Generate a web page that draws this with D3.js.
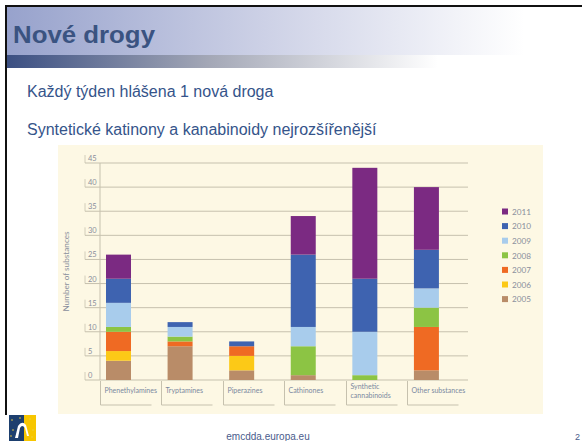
<!DOCTYPE html>
<html><head><meta charset="utf-8">
<script src="https://cdn.jsdelivr.net/npm/d3@7/dist/d3.min.js"></script>
<style>html,body{margin:0;padding:0;background:#fff;}svg{display:block;}</style>
</head><body>
<script>
const categories = ["Phenethylamines","Tryptamines","Piperazines","Cathinones","Synthetic cannabinoids","Other substances"];
const categoryLines = [["Phenethylamines"],["Tryptamines"],["Piperazines"],["Cathinones"],["Synthetic","cannabinoids"],["Other substances"]];
const years = ["2005","2006","2007","2008","2009","2010","2011"];
const s2005 = [4,7,2,1,0,2];
const s2006 = [2,0,3,0,0,0];
const s2007 = [4,1,2,0,0,9];
const s2008 = [1,1,0,6,1,4];
const s2009 = [5,2,0,4,9,4];
const s2010 = [5,1,1,15,11,8];
const s2011 = [5,0,0,8,23,13];
const yTicks = [0,5,10,15,20,25,30,35,40,45];
const colors = ["#b98c68","#fcc917","#ef6a23","#8cc444","#a8ccec","#3e63b0","#7b2a82"];

const W=582,H=441;
const svg=d3.select("body").append("svg").attr("width",W).attr("height",H);
const defs=svg.append("defs");
const g1=defs.append("linearGradient").attr("id","band").attr("x1","0").attr("x2","1");
g1.append("stop").attr("offset","0").attr("stop-color","#97a2cc");
g1.append("stop").attr("offset","0.45").attr("stop-color","#cdd1e6");
g1.append("stop").attr("offset","0.9").attr("stop-color","#ffffff");
const g2=defs.append("linearGradient").attr("id","strip").attr("x1","0").attr("x2","1");
g2.append("stop").attr("offset","0").attr("stop-color","#3b4f82");
g2.append("stop").attr("offset","0.35").attr("stop-color","#a3a7b6");
g2.append("stop").attr("offset","0.75").attr("stop-color","#ffffff");

// header
svg.append("rect").attr("x",6).attr("y",6).attr("width",W-6).attr("height",49).attr("fill","url(#band)");
svg.append("rect").attr("x",6).attr("y",55).attr("width",W-6).attr("height",13).attr("fill","url(#strip)");
svg.append("line").attr("x1",5).attr("x2",W).attr("y1",6).attr("y2",6).attr("stroke","#111").attr("stroke-width",2);
svg.append("line").attr("x1",6).attr("x2",6).attr("y1",5).attr("y2",415).attr("stroke","#111").attr("stroke-width",2);
svg.append("text").attr("x",13).attr("y",43).text("Nové drogy")
  .attr("textLength",142).attr("lengthAdjust","spacingAndGlyphs")
  .attr("font-family","Liberation Sans, Arial, sans-serif").attr("font-weight","bold").attr("font-size",23).attr("fill","#3a5381");
svg.append("text").attr("x",27).attr("y",97).text("Každý týden hlášena 1 nová droga")
  .attr("font-family","Liberation Sans, Arial, sans-serif").attr("font-size",16).attr("fill","#35548a");
svg.append("text").attr("x",27).attr("y",135).text("Syntetické katinony a kanabinoidy nejrozšířenější")
  .attr("font-family","Liberation Sans, Arial, sans-serif").attr("font-size",16).attr("fill","#35548a");

// chart panel
svg.append("rect").attr("x",58).attr("y",145).attr("width",485).attr("height",269).attr("fill","#fdf8e4");

const x=d3.scaleBand().domain(categories).range([99.5,469]).padding(0);
const y=d3.scaleLinear().domain([0,45]).range([380,163]);
const tickCol="#c6c1ae", txtCol="#8a8f9c";
const font="Lato, Liberation Sans, sans-serif";

const grid=svg.append("g");
yTicks.forEach(t=>{
  grid.append("line").attr("x1",85).attr("x2",468).attr("y1",y(t)).attr("y2",y(t)).attr("stroke",tickCol).attr("stroke-width",1);
  grid.append("line").attr("x1",85).attr("x2",85).attr("y1",y(t)-8).attr("y2",y(t)).attr("stroke",tickCol).attr("stroke-width",0.8);
  grid.append("text").attr("x",88).attr("y",y(t)-2).text(t).attr("font-family",font).attr("font-size",7.5).attr("fill",txtCol);
});
svg.append("line").attr("x1",100).attr("x2",100).attr("y1",y(45)).attr("y2",y(0)).attr("stroke",tickCol).attr("stroke-width",1);

svg.append("text").attr("transform",`translate(69,${(y(0)+y(45))/2}) rotate(-90)`).attr("text-anchor","middle")
  .text("Number of substances").attr("font-family",font).attr("font-size",8.2).attr("fill",txtCol);

// stacked bars
const table=categories.map((c,i)=>{const o={cat:c};[s2005,s2006,s2007,s2008,s2009,s2010,s2011].forEach((s,k)=>o[years[k]]=s[i]);return o;});
const stack=d3.stack().keys(years)(table);
svg.append("g").selectAll("g").data(stack).join("g").attr("fill",(d,i)=>colors[i])
  .selectAll("rect").data(d=>d).join("rect")
  .attr("x",d=>x(d.data.cat)+6.5).attr("width",25)
  .attr("y",d=>y(d[1])).attr("height",d=>y(d[0])-y(d[1]));

// category label boxes
const cg=svg.append("g");
categories.forEach((c,i)=>{
  const x0=Math.round(x(c))+0.5;
  cg.append("line").attr("x1",x0).attr("x2",x0).attr("y1",381).attr("y2",405).attr("stroke",tickCol);
  cg.append("line").attr("x1",x0).attr("x2",x0+51).attr("y1",405).attr("y2",405).attr("stroke",tickCol);
  const lines=categoryLines[i];
  lines.forEach((l,j)=>{
    cg.append("text").attr("x",x0+4).attr("y",lines.length>1?389+j*8.5:393).text(l)
      .attr("font-family",font).attr("font-size",7).attr("fill","#7b88a0");
  });
});

// legend
const leg=svg.append("g");
years.slice().reverse().forEach((yr,i)=>{
  const yy=212+i*14.6;
  leg.append("rect").attr("x",502).attr("y",yy-3.5).attr("width",6).attr("height",6).attr("fill",colors[years.indexOf(yr)]);
  leg.append("text").attr("x",512).attr("y",yy+2.8).text(yr).attr("font-family",font).attr("font-size",8.2).attr("fill",txtCol);
});

// footer
svg.append("text").attr("x",268).attr("y",440).attr("text-anchor","middle").text("emcdda.europa.eu")
  .attr("font-family","Liberation Sans, Arial, sans-serif").attr("font-size",10).attr("fill","#4a5c8c");
svg.append("text").attr("x",575).attr("y",440).text("2")
  .attr("font-family","Liberation Sans, Arial, sans-serif").attr("font-size",9).attr("fill","#4a5c8c");

// logo
const lg=svg.append("g");
lg.append("rect").attr("x",9).attr("y",415).attr("width",15).attr("height",26).attr("fill","#1d3f6e");
lg.append("rect").attr("x",24).attr("y",415).attr("width",12).attr("height",26).attr("fill","#f7c600");
lg.append("path").attr("d","M15,438 L18,426 Q22,420 26,425 L29,436 L27,436 L25,428 Q22,424 20,428 L18,438 Z").attr("fill","#ffffff");
[[12,420],[20,418],[30,419],[13,430],[33,430],[11,436],[32,437]].forEach(p=>
  lg.append("circle").attr("cx",p[0]).attr("cy",p[1]).attr("r",0.8).attr("fill","#f0d040"));
</script>
</body></html>
